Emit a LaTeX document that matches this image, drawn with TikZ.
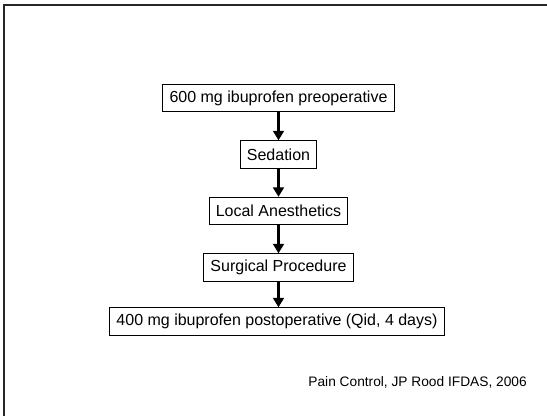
\documentclass[tikz,border=0pt]{standalone}
\usepackage{fontspec}
\setmainfont{Liberation Sans}
\usetikzlibrary{arrows.meta}
\begin{document}
\begin{tikzpicture}[x=0.75pt,y=-0.75pt,
  stepbox/.style={draw=black,line width=0.8pt,fill=white,inner xsep=5pt,
    inner ysep=0pt,minimum height=20.5pt,font=\fontsize{12pt}{14pt}\selectfont},
  flow/.style={line width=2.2pt,-{Triangle[width=8pt,length=7pt]}},
  frame/.style={line width=1.1pt,draw=black!85}]
  \useasboundingbox (0,0) rectangle (547,416);
  % page frame running off the right and bottom edges
  \draw[frame] (4,420) -- (4,5) -- (551,5);
  % flow steps, all centred on one vertical axis
  \node[stepbox] (pre)   at (278.5,98)  {600 mg ibuprofen preoperative};
  \node[stepbox] (sed)   at (278.5,154.5) {Sedation};
  \node[stepbox] (local) at (278.5,211)   {Local Anesthetics};
  \node[stepbox] (surg)  at (278.5,267.5) {Surgical Procedure};
  \node[stepbox] (post)  at (277,321.5) {400 mg ibuprofen postoperative (Qid, 4 days)};
  % connectors
  \draw[flow] (pre.south)   -- (sed.north);
  \draw[flow] (sed.south)   -- (local.north);
  \draw[flow] (local.south) -- (surg.north);
  \draw[flow] (surg.south)  -- (surg.south |- post.north);
  % source note
  \node[anchor=east,inner sep=0pt,font=\fontsize{10.3pt}{12pt}\selectfont] (src)
    at (527,382) {Pain Control, JP Rood IFDAS, 2006};
\end{tikzpicture}
\end{document}
